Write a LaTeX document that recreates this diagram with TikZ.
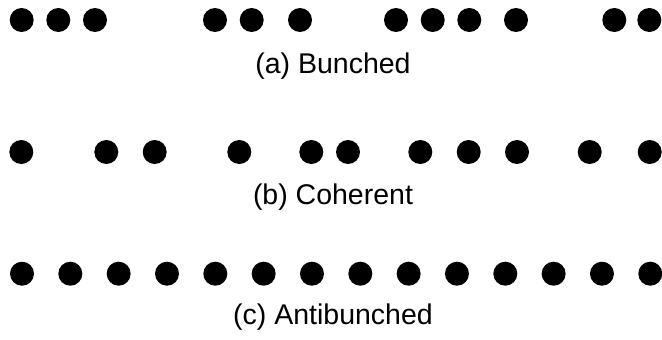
\documentclass[tikz,border=0pt]{standalone}
\usepackage{fontspec}
\setmainfont{Liberation Sans}
\begin{document}
\begin{tikzpicture}[x=1pt,y=-1pt,
  dot/.style={circle,fill=black,inner sep=0pt,minimum size=24pt},
  caption/.style={anchor=base,inner sep=0pt,font=\fontsize{28.5}{32}\selectfont}]
\useasboundingbox (0,0) rectangle (662,340);
% (a) Bunched
\foreach \x [count=\i] in {21.7,58.3,95,215,251.7,300,396,432.7,469.3,516,614.3,649.3}
  \node[dot] (a\i) at (\x,20) {};
\node[caption] (la) at (333,73.5) {(a) Bunched};
% (b) Coherent
\foreach \x [count=\i] in {21.3,106.3,154.7,239.3,311.3,348,420.3,468.7,517,589.7,649.7}
  \node[dot] (b\i) at (\x,152) {};
\node[caption] (lb) at (333,204.3) {(b) Coherent};
% (c) Antibunched
\foreach \i in {0,...,13}
  \node[dot] (c\i) at ({22+48.33*\i},273.7) {};
\node[caption] (lc) at (333,324.3) {(c) Antibunched};
\end{tikzpicture}
\end{document}
